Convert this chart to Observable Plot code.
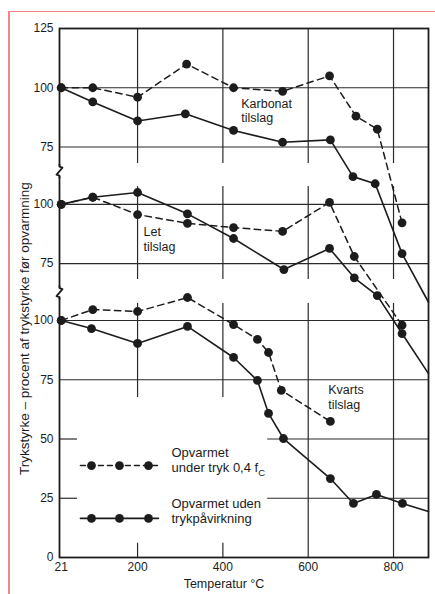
<!DOCTYPE html>
<html>
<head>
<meta charset="utf-8">
<script src="https://cdn.jsdelivr.net/npm/d3@7"></script>
<script src="https://cdn.jsdelivr.net/npm/@observablehq/plot@0.6"></script>
<style>
  html, body { margin: 0; padding: 0; background: #fff; width: 435px; height: 594px; overflow: hidden; }
  #wrap { position: relative; width: 435px; height: 594px; }
  #border { position: absolute; left: 8px; top: 11px; width: 450px; height: 620px;
            border-left: 2px solid #ef8787; border-top: 1.5px solid #ef8787; pointer-events: none; }
</style>
</head>
<body>
<div id="wrap"><div id="chart"></div><div id="border"></div></div>
<script>
// ---------- data (% of strength before heating) ----------
// Karbonat tilslag
const karbonatLoadT = [21, 95, 200, 315, 425, 540, 650, 712, 762, 820];
const karbonatLoadV = [100, 100, 96, 110, 100, 98.5, 105, 88, 82.5, 43];
const karbonatFreeT = [21, 95, 200, 312, 425, 540, 652, 705, 757, 820, 882];
const karbonatFreeV = [100, 94, 86, 89, 82, 77, 78, 62.5, 59.5, 30, 9.5];
// Let tilslag
const letLoadT = [21, 95, 200, 317, 425, 540, 650, 708, 820];
const letLoadV = [100, 103, 95.7, 92, 90.2, 88.6, 100.8, 78, 49];
const letFreeT = [21, 95, 200, 317, 425, 543, 650, 708, 762, 820, 882];
const letFreeV = [100, 103, 105, 96, 85.6, 72.5, 81.4, 69, 61.5, 45.5, 28.6];
// Kvarts tilslag
const kvartsLoadT = [21, 95, 200, 317, 425, 481, 507, 537, 652];
const kvartsLoadV = [100, 104.6, 103.8, 109.7, 98.3, 92, 86.5, 70.5, 57.4];
const kvartsFreeT = [21, 92, 200, 317, 425, 481, 507, 542, 652, 706, 760, 821, 882];
const kvartsFreeV = [100, 96.6, 90.3, 97.5, 84.4, 74.7, 60.8, 50.2, 33.3, 22.8, 26.6, 22.8, 19.4];

const panelNames = ["Karbonat\ntilslag", "Let\ntilslag", "Kvarts\ntilslag"];
const panelTicks = [[125, 100, 75], [100, 75], [100, 75, 50, 25, 0]];
const xTicks = [21, 200, 400, 600, 800];
const legendLabels = ["Opvarmet\nunder tryk 0,4 f", "Opvarmet uden\ntrykpåvirkning"];
const yLabel = "Trykstyrke – procent af trykstyrke før opvarmning";
const xLabel = "Temperatur °C";

// ---------- layout ----------
const W = 435, H = 594, mL = 59, mR = 7, mT = 28, mB = 37;
const xDomain = [17, 882], yTop = 223.2;
const panelOffset = [98.2, 49, 0];          // stacked broken axis
const panelGridTop = [125, 107.5, 107.2];
const panelGridBottom = [68, 68.3, 67.5];
const panelBreak = [65, 63];                 // break marks on left axis (panels 1 and 2)
const lastMeasured = 830;
const kx = (xDomain[1] - xDomain[0]) / (W - mL - mR);
const ky = yTop / (H - mT - mB);
const labelPos = [{x: 443, y: 90.4}, {x: 214, y: 85.4}, {x: 647, y: 67.7}];
const legendLayout = [
  {lineY: 38.8, textY: 41.1, dashed: true},
  {lineY: 16.5, textY: 19.6, dashed: false}
];
const legendLineX = [66, 249], legendDotX = [92, 157.6, 225.6], legendTextX = 279.5;
const stubRanges = [[xDomain[0], 59], [505, xDomain[1]]];
const yLabelCenter = 96.6;

const ink = "#1c1c1c";
const dash = "6.5,4.5";

// ---------- build rows ----------
const series = [
  {p: 0, load: true,  t: karbonatLoadT, v: karbonatLoadV},
  {p: 0, load: false, t: karbonatFreeT, v: karbonatFreeV},
  {p: 1, load: true,  t: letLoadT, v: letLoadV},
  {p: 1, load: false, t: letFreeT, v: letFreeV},
  {p: 2, load: true,  t: kvartsLoadT, v: kvartsLoadV},
  {p: 2, load: false, t: kvartsFreeT, v: kvartsFreeV}
];
const rows = series.flatMap((s, si) => s.t.map((t, i) => ({t, y: s.v[i] + panelOffset[s.p], id: si, load: s.load})));

// y ticks (virtual coordinates) and labels
const yTickV = [], yLabelMap = new Map();
panelTicks.forEach((ts, p) => ts.forEach(v => { const vv = v + panelOffset[p]; yTickV.push(vv); yLabelMap.set(vv, String(v)); }));

// horizontal grid
const hFull = [];
panelTicks.forEach((ts, p) => ts.filter(v => v === 100 || v === 75).forEach(v => hFull.push(v + panelOffset[p])));
const hStubs = [];
[50, 25].forEach(v => stubRanges.forEach(r => hStubs.push({y: v + panelOffset[2], x1: r[0], x2: r[1]})));

// vertical grid
const vSegs = [];
[200, 400, 600, 800].forEach(x => {
  [0, 1, 2].forEach(p => {
    const bottom = (p === 2 && x >= 600) ? 0 : panelGridBottom[p];
    vSegs.push({x, y1: bottom + panelOffset[p], y2: panelGridTop[p] + panelOffset[p]});
  });
  if (x < 600) vSegs.push({x, y1: 0, y2: 6});
});

// axis breaks
const breakV = panelBreak.map((b, i) => b + panelOffset[i]);
const zig = [[0, -6], [0, -4], [3, -3], [-3, 4], [0, 5], [0, 7]];
const zigRows = breakV.flatMap((b, i) => zig.map(([dx, dy]) => ({x: xDomain[0] + dx * kx, y: b - dy * ky, id: i})));

// legend
const legendLines = legendLayout.flatMap((l, i) => legendLineX.map(x => ({x, y: l.lineY, id: i, dashed: l.dashed})));
const legendDots = legendLayout.flatMap(l => legendDotX.map(x => ({x, y: l.lineY})));
const legendTexts = legendLayout.map((l, i) => ({x: legendTextX, y: l.textY, text: legendLabels[i]}));
const seriesLabels = panelNames.map((n, p) => ({x: labelPos[p].x, y: labelPos[p].y + panelOffset[p], text: n}));

const chart = Plot.plot({
  width: W, height: H,
  marginLeft: mL, marginRight: mR, marginTop: mT, marginBottom: mB,
  x: {domain: xDomain},
  y: {domain: [0, yTop]},
  style: {fontFamily: "'Liberation Sans', Arial, Helvetica, sans-serif", fontSize: "12px", color: ink, background: "transparent"},
  marks: [
    Plot.ruleY(hFull, {y: d => d, stroke: "#2a2a2a", strokeWidth: 1.2}),
    Plot.ruleY(hStubs, {y: "y", x1: "x1", x2: "x2", stroke: "#2a2a2a", strokeWidth: 1.2}),
    Plot.ruleX(vSegs, {x: "x", y1: "y1", y2: "y2", stroke: "#2a2a2a", strokeWidth: 1.2}),
    Plot.frame({stroke: ink, strokeWidth: 1.8}),
    Plot.link(breakV, {x1: xDomain[0], x2: xDomain[0], y1: d => d + 4.5 * ky, y2: d => d - 5.5 * ky, stroke: "white", strokeWidth: 5}),
    Plot.line(zigRows, {x: "x", y: "y", z: "id", stroke: ink, strokeWidth: 1.8}),
    Plot.line(rows.filter(d => d.load), {x: "t", y: "y", z: "id", stroke: ink, strokeWidth: 1.5, strokeDasharray: dash}),
    Plot.line(rows.filter(d => !d.load), {x: "t", y: "y", z: "id", stroke: ink, strokeWidth: 1.6}),
    Plot.dot(rows.filter(d => d.t <= lastMeasured), {x: "t", y: "y", r: 4.4, fill: ink, stroke: "none"}),
    Plot.line(legendLines.filter(d => d.dashed), {x: "x", y: "y", z: "id", stroke: ink, strokeWidth: 1.5, strokeDasharray: "5,4"}),
    Plot.line(legendLines.filter(d => !d.dashed), {x: "x", y: "y", z: "id", stroke: ink, strokeWidth: 1.6}),
    Plot.dot(legendDots, {x: "x", y: "y", r: 4.4, fill: ink, stroke: "none"}),
    Plot.text(legendTexts, {x: "x", y: "y", text: "text", textAnchor: "start", lineAnchor: "middle", fontSize: 13, lineHeight: 1.16, fill: ink}),
    Plot.text(seriesLabels, {x: "x", y: "y", text: "text", textAnchor: "start", lineAnchor: "middle", fontSize: 12.5, lineHeight: 1.17, fill: ink}),
    Plot.axisY({ticks: yTickV, tickFormat: d => yLabelMap.get(d), tickSize: 0, tickPadding: 6, fontSize: 12, label: null}),
    Plot.axisX({ticks: xTicks, tickSize: 0, tickPadding: 5, fontSize: 12, label: null}),
    Plot.text([yLabel], {x: xDomain[0], y: yLabelCenter, rotate: -90, textAnchor: "middle", lineAnchor: "middle", dx: -35, fontSize: 13.5, fill: ink}),
    Plot.text([xLabel], {frameAnchor: "bottom", textAnchor: "middle", lineAnchor: "middle", dx: -20, dy: 26, fontSize: 12.5, fill: ink})
  ]
});
document.getElementById("chart").appendChild(chart);

// subscript C for f_c
chart.querySelectorAll("tspan, text").forEach(el => {
  if (el.childElementCount === 0 && el.textContent === "under tryk 0,4 f") {
    const sub = document.createElementNS("http://www.w3.org/2000/svg", "tspan");
    sub.setAttribute("dy", "3.5");
    sub.setAttribute("font-size", "9.5");
    sub.textContent = "C";
    el.appendChild(sub);
  }
});
</script>
</body>
</html>
